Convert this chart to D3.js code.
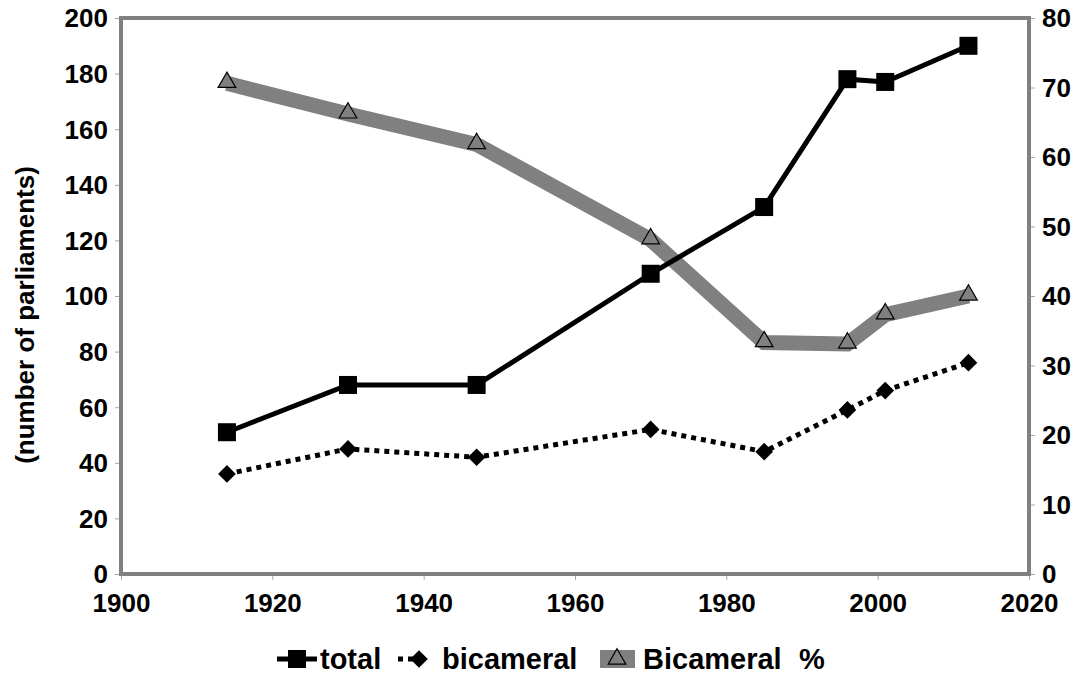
<!DOCTYPE html>
<html><head><meta charset="utf-8">
<script src="https://cdn.jsdelivr.net/npm/d3@7"></script>
<style>
html,body{margin:0;padding:0;background:#fff;}
svg text{font-family:"Liberation Sans",Arial,Helvetica,sans-serif;font-weight:bold;fill:#000;}
</style></head>
<body>
<svg id="chart" width="1082" height="677"></svg>
<script>
const years = [1914, 1930, 1947, 1970, 1985, 1996, 2001, 2012];
const total = [51, 68, 68, 108, 132, 178, 177, 190];
const bicameral = [36, 45, 42, 52, 44, 59, 66, 76];
const bicameralPct = [70.6, 66.2, 61.8, 48.1, 33.3, 33.1, 37.3, 40.0];
const xTicks = [1900, 1920, 1940, 1960, 1980, 2000, 2020];
const yLeftTicks = [0, 20, 40, 60, 80, 100, 120, 140, 160, 180, 200];
const yRightTicks = [0, 10, 20, 30, 40, 50, 60, 70, 80];
const seriesNames = ["total", "bicameral", "Bicameral", "%"];
const yTitle = "(number of parliaments)";

const svg = d3.select("#chart");
const L = 121, R = 1029, T = 18, B = 574;
const x = d3.scaleLinear().domain([1900, 2020]).range([L, R]);
const yL = d3.scaleLinear().domain([0, 200]).range([B, T]);
const yR = d3.scaleLinear().domain([0, 80]).range([B, T]);
const gray = "#808080";

// axes
const gx = svg.append("g").attr("transform", `translate(0,${B})`)
  .call(d3.axisBottom(x).tickValues(xTicks).tickFormat(d3.format("d")).tickSize(6).tickPadding(10));
const gl = svg.append("g").attr("transform", `translate(${L},0)`)
  .call(d3.axisLeft(yL).tickValues(yLeftTicks).tickSize(6).tickPadding(7));
const gr = svg.append("g").attr("transform", `translate(${R},0)`)
  .call(d3.axisRight(yR).tickValues(yRightTicks).tickSize(6).tickPadding(7));
[gx, gl, gr].forEach(g => {
  g.select(".domain").remove();
  g.selectAll(".tick line").attr("stroke", "#a8a8a8").attr("stroke-width", 1);
  g.selectAll(".tick text").style("font-size", "26px").attr("fill", "#000");
});
gx.selectAll(".tick text").attr("dy", "0.85em");
gl.selectAll(".tick text").attr("dy", "0.34em");
gr.selectAll(".tick text").attr("dy", "0.34em");

// frame
svg.append("rect").attr("x", L).attr("y", T).attr("width", R - L).attr("height", B - T)
  .attr("fill", "none").attr("stroke", gray).attr("stroke-width", 4);

// y title
svg.append("text").attr("transform", `translate(34,315) rotate(-90)`)
  .attr("text-anchor", "middle").style("font-size", "26px").text(yTitle);

// Bicameral % series
const linePct = d3.line().x((d, i) => x(years[i])).y(d => yR(d));
svg.append("path").datum(bicameralPct).attr("d", linePct)
  .attr("fill", "none").attr("stroke", gray).attr("stroke-width", 15).attr("stroke-linejoin", "miter");
const tri = d3.symbol().type(d3.symbolTriangle).size(135);
svg.selectAll(".tri").data(bicameralPct).enter().append("path")
  .attr("transform", (d, i) => `translate(${x(years[i])},${yR(d) - 1})`)
  .attr("d", tri).attr("fill", gray).attr("stroke", "#000").attr("stroke-width", 1.2);

// total
const lineL = d3.line().x((d, i) => x(years[i])).y(d => yL(d));
svg.append("path").datum(total).attr("d", lineL)
  .attr("fill", "none").attr("stroke", "#000").attr("stroke-width", 5);
svg.selectAll(".sq").data(total).enter().append("rect")
  .attr("x", (d, i) => x(years[i]) - 9).attr("y", d => yL(d) - 9)
  .attr("width", 18).attr("height", 18).attr("fill", "#000");

// bicameral
svg.append("path").datum(bicameral).attr("d", lineL)
  .attr("fill", "none").attr("stroke", "#000").attr("stroke-width", 5).attr("stroke-dasharray", "5,5");
const dia = d3.symbol().type(d3.symbolDiamond2).size(200);
svg.selectAll(".dia").data(bicameral).enter().append("path")
  .attr("transform", (d, i) => `translate(${x(years[i])},${yL(d)})`)
  .attr("d", dia).attr("fill", "#000");

// legend
const ly = 659, fs = "29px";
const lg = svg.append("g");
// total
lg.append("line").attr("x1", 277).attr("x2", 317).attr("y1", ly).attr("y2", ly).attr("stroke", "#000").attr("stroke-width", 5);
lg.append("rect").attr("x", 288).attr("y", ly - 9).attr("width", 18).attr("height", 18).attr("fill", "#000");
lg.append("text").attr("x", 320).attr("y", ly + 10).style("font-size", fs).text(seriesNames[0]);
// bicameral
lg.append("line").attr("x1", 398).attr("x2", 418).attr("y1", ly).attr("y2", ly).attr("stroke", "#000").attr("stroke-width", 5).attr("stroke-dasharray", "5,5");
lg.append("path").attr("transform", `translate(419,${ly})`).attr("d", dia).attr("fill", "#000");
lg.append("text").attr("x", 442).attr("y", ly + 10).style("font-size", fs).text(seriesNames[1]);
// Bicameral %
lg.append("rect").attr("x", 600).attr("y", ly - 9).attr("width", 35).attr("height", 18).attr("fill", gray);
lg.append("path").attr("transform", `translate(617,${ly})`).attr("d", tri).attr("fill", gray).attr("stroke", "#000").attr("stroke-width", 1.2);
const t3 = lg.append("text").attr("y", ly + 10).style("font-size", fs);
t3.append("tspan").attr("x", 643).text(seriesNames[2] + " ");
t3.append("tspan").attr("x", 799).text(seriesNames[3]);
</script>
</body></html>
